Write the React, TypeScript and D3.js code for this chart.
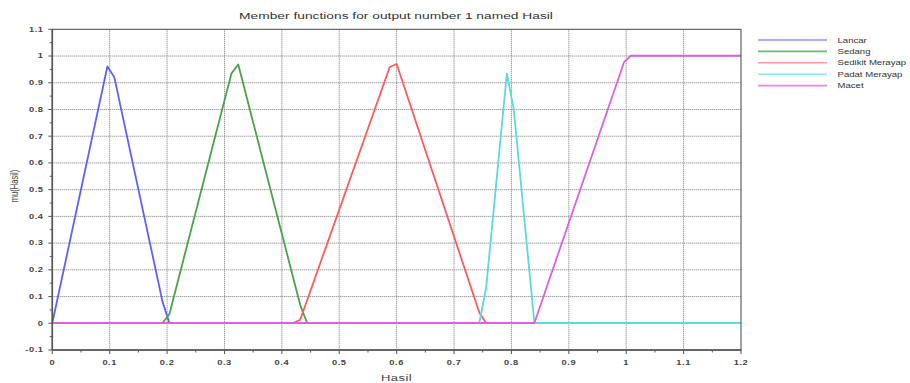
import React from "react";
import * as d3 from "d3";

// Membership function vertices [Hasil, mu]
const lancar: [number, number][] = [[0, 0], [0.096, 0.96], [0.108, 0.92], [0.192, 0.08], [0.204, 0], [1.2, 0]];
const sedang: [number, number][] = [[0, 0], [0.192, 0], [0.204, 0.033], [0.312, 0.933], [0.324, 0.967], [0.432, 0.067], [0.444, 0], [1.2, 0]];
const sedikitMerayap: [number, number][] = [[0, 0], [0.42, 0], [0.432, 0.012], [0.444, 0.085], [0.588, 0.958], [0.6, 0.969], [0.744, 0.039], [0.756, 0], [1.2, 0]];
const padatMerayap: [number, number][] = [[0, 0], [0.744, 0], [0.756, 0.133], [0.792, 0.933], [0.804, 0.8], [0.84, 0], [1.2, 0]];
const macet: [number, number][] = [[0, 0], [0.84, 0], [0.996, 0.975], [1.008, 1], [1.2, 1]];

const seriesNames = ["Lancar", "Sedang", "Sedikit Merayap", "Padat Merayap", "Macet"];
const seriesData = [lancar, sedang, sedikitMerayap, padatMerayap, macet];
const seriesColors = ["#6060ff", "#4aa34a", "#ff5a5a", "#5cdada", "#da62da"];
const legendColors = ["#8f8fff", "#6fb86f", "#ff9a9a", "#8fe6e6", "#e08ae0"];

const xTicks = [0, 0.1, 0.2, 0.3, 0.4, 0.5, 0.6, 0.7, 0.8, 0.9, 1, 1.1, 1.2];
const yTicks = [-0.1, 0, 0.1, 0.2, 0.3, 0.4, 0.5, 0.6, 0.7, 0.8, 0.9, 1, 1.1];

const W = 910;
const H = 383;
const left = 52.3;
const right = 741;
const top = 29.3;
const bottom = 350;
// horizontal stretch applied to every text run
const SX = 1.45;

type TProps = {
  x: number;
  y: number;
  size: number;
  anchor?: "start" | "middle" | "end";
  fill?: string;
  weight?: string;
  spacing?: number;
  rotate?: number;
  children: React.ReactNode;
};

function T({ x, y, size, anchor = "start", fill = "#333", weight = "normal", spacing = 0, rotate = 0, children }: TProps) {
  return (
    <text
      transform={`translate(${x},${y}) scale(${SX},1)${rotate ? ` rotate(${rotate})` : ""}`}
      textAnchor={anchor}
      fontSize={size}
      fill={fill}
      fontWeight={weight}
      letterSpacing={spacing}
    >
      {children}
    </text>
  );
}

export default function App() {
  const x = d3.scaleLinear().domain([0, 1.2]).range([left, right]);
  const y = d3.scaleLinear().domain([-0.1, 1.1]).range([bottom, top]);
  const line = d3
    .line<[number, number]>()
    .x((d) => x(d[0]))
    .y((d) => y(d[1]));

  const minorX = d3.range(0, 12).map((i) => 0.05 + i * 0.1);
  const minorY = d3.range(0, 12).map((i) => -0.05 + i * 0.1);
  const fmt = (v: number) => String(Math.round(v * 10) / 10);

  const font = "'Liberation Sans', Arial, sans-serif";
  const axisColor = "#555";
  // put the shared zero line on a pixel boundary so the top-most curve covers its rows cleanly
  const snap = Math.round(y(0)) - y(0);

  return (
    <svg
      width={W}
      height={H}
      style={{ position: "absolute", left: 0, top: 0, background: "#fff" }}
      fontFamily={font}
    >
      <rect x={0} y={0} width={W} height={H} fill="#fff" />
      {/* grid */}
      <g stroke="#777" strokeWidth={1} strokeDasharray="1,1">
        {xTicks.slice(1, -1).map((t) => (
          <line key={"gx" + t} x1={x(t)} x2={x(t)} y1={top} y2={bottom} />
        ))}
        {yTicks.slice(1, -1).map((t) => (
          <line key={"gy" + t} x1={left} x2={right} y1={y(t)} y2={y(t)} />
        ))}
      </g>
      {/* curves */}
      <g fill="none" strokeWidth={1.8} strokeLinejoin="round" transform={`translate(0,${snap})`}>
        {seriesData.map((d, i) => (
          <path key={seriesNames[i]} d={line(d) || ""} stroke={seriesColors[i]} />
        ))}
      </g>
      {/* frame */}
      <rect x={left} y={top} width={right - left} height={bottom - top} fill="none" stroke="#444" strokeWidth={1} />
      <line x1={left} x2={left} y1={top} y2={bottom} stroke={axisColor} strokeWidth={1.6} />
      <line x1={left} x2={right} y1={bottom} y2={bottom} stroke={axisColor} strokeWidth={1.6} />
      {/* ticks */}
      <g stroke={axisColor} strokeWidth={1}>
        {xTicks.map((t) => (
          <line key={"tx" + t} x1={x(t)} x2={x(t)} y1={bottom} y2={bottom + 4} />
        ))}
        {minorX.map((t) => (
          <line key={"mx" + t} x1={x(t)} x2={x(t)} y1={bottom} y2={bottom + 2.5} />
        ))}
        {yTicks.map((t) => (
          <line key={"ty" + t} x1={left - 4} x2={left} y1={y(t)} y2={y(t)} />
        ))}
        {minorY.map((t) => (
          <line key={"my" + t} x1={left - 2.5} x2={left} y1={y(t)} y2={y(t)} />
        ))}
      </g>
      {/* tick labels */}
      {xTicks.map((t) => (
        <T key={"lx" + t} x={x(t)} y={364.6} size={6.4} anchor="middle" fill="#444" weight="bold" spacing={0.4}>
          {fmt(t)}
        </T>
      ))}
      {yTicks.map((t) => (
        <T key={"ly" + t} x={43.6} y={y(t) + 2.3} size={6.4} anchor="end" fill="#444" weight="bold" spacing={0.4}>
          {fmt(t)}
        </T>
      ))}
      {/* titles */}
      <T x={396} y={19} size={9.5} anchor="middle" fill="#333">
        Member functions for output number 1 named Hasil
      </T>
      <T x={396.5} y={381} size={9} anchor="middle" fill="#444" spacing={0.3}>
        Hasil
      </T>
      <T x={18.3} y={186} size={7.6} anchor="middle" fill="#444" rotate={-90}>
        mu(Hasil)
      </T>
      {/* legend */}
      {seriesNames.map((name, i) => {
        const ly = 40 + i * 11.4;
        return (
          <g key={"lg" + name}>
            <line x1={758} x2={827} y1={ly} y2={ly} stroke={legendColors[i]} strokeWidth={1.6} />
            <T x={837.5} y={ly + 2.6} size={6.6} fill="#333">
              {name}
            </T>
          </g>
        );
      })}
    </svg>
  );
}
